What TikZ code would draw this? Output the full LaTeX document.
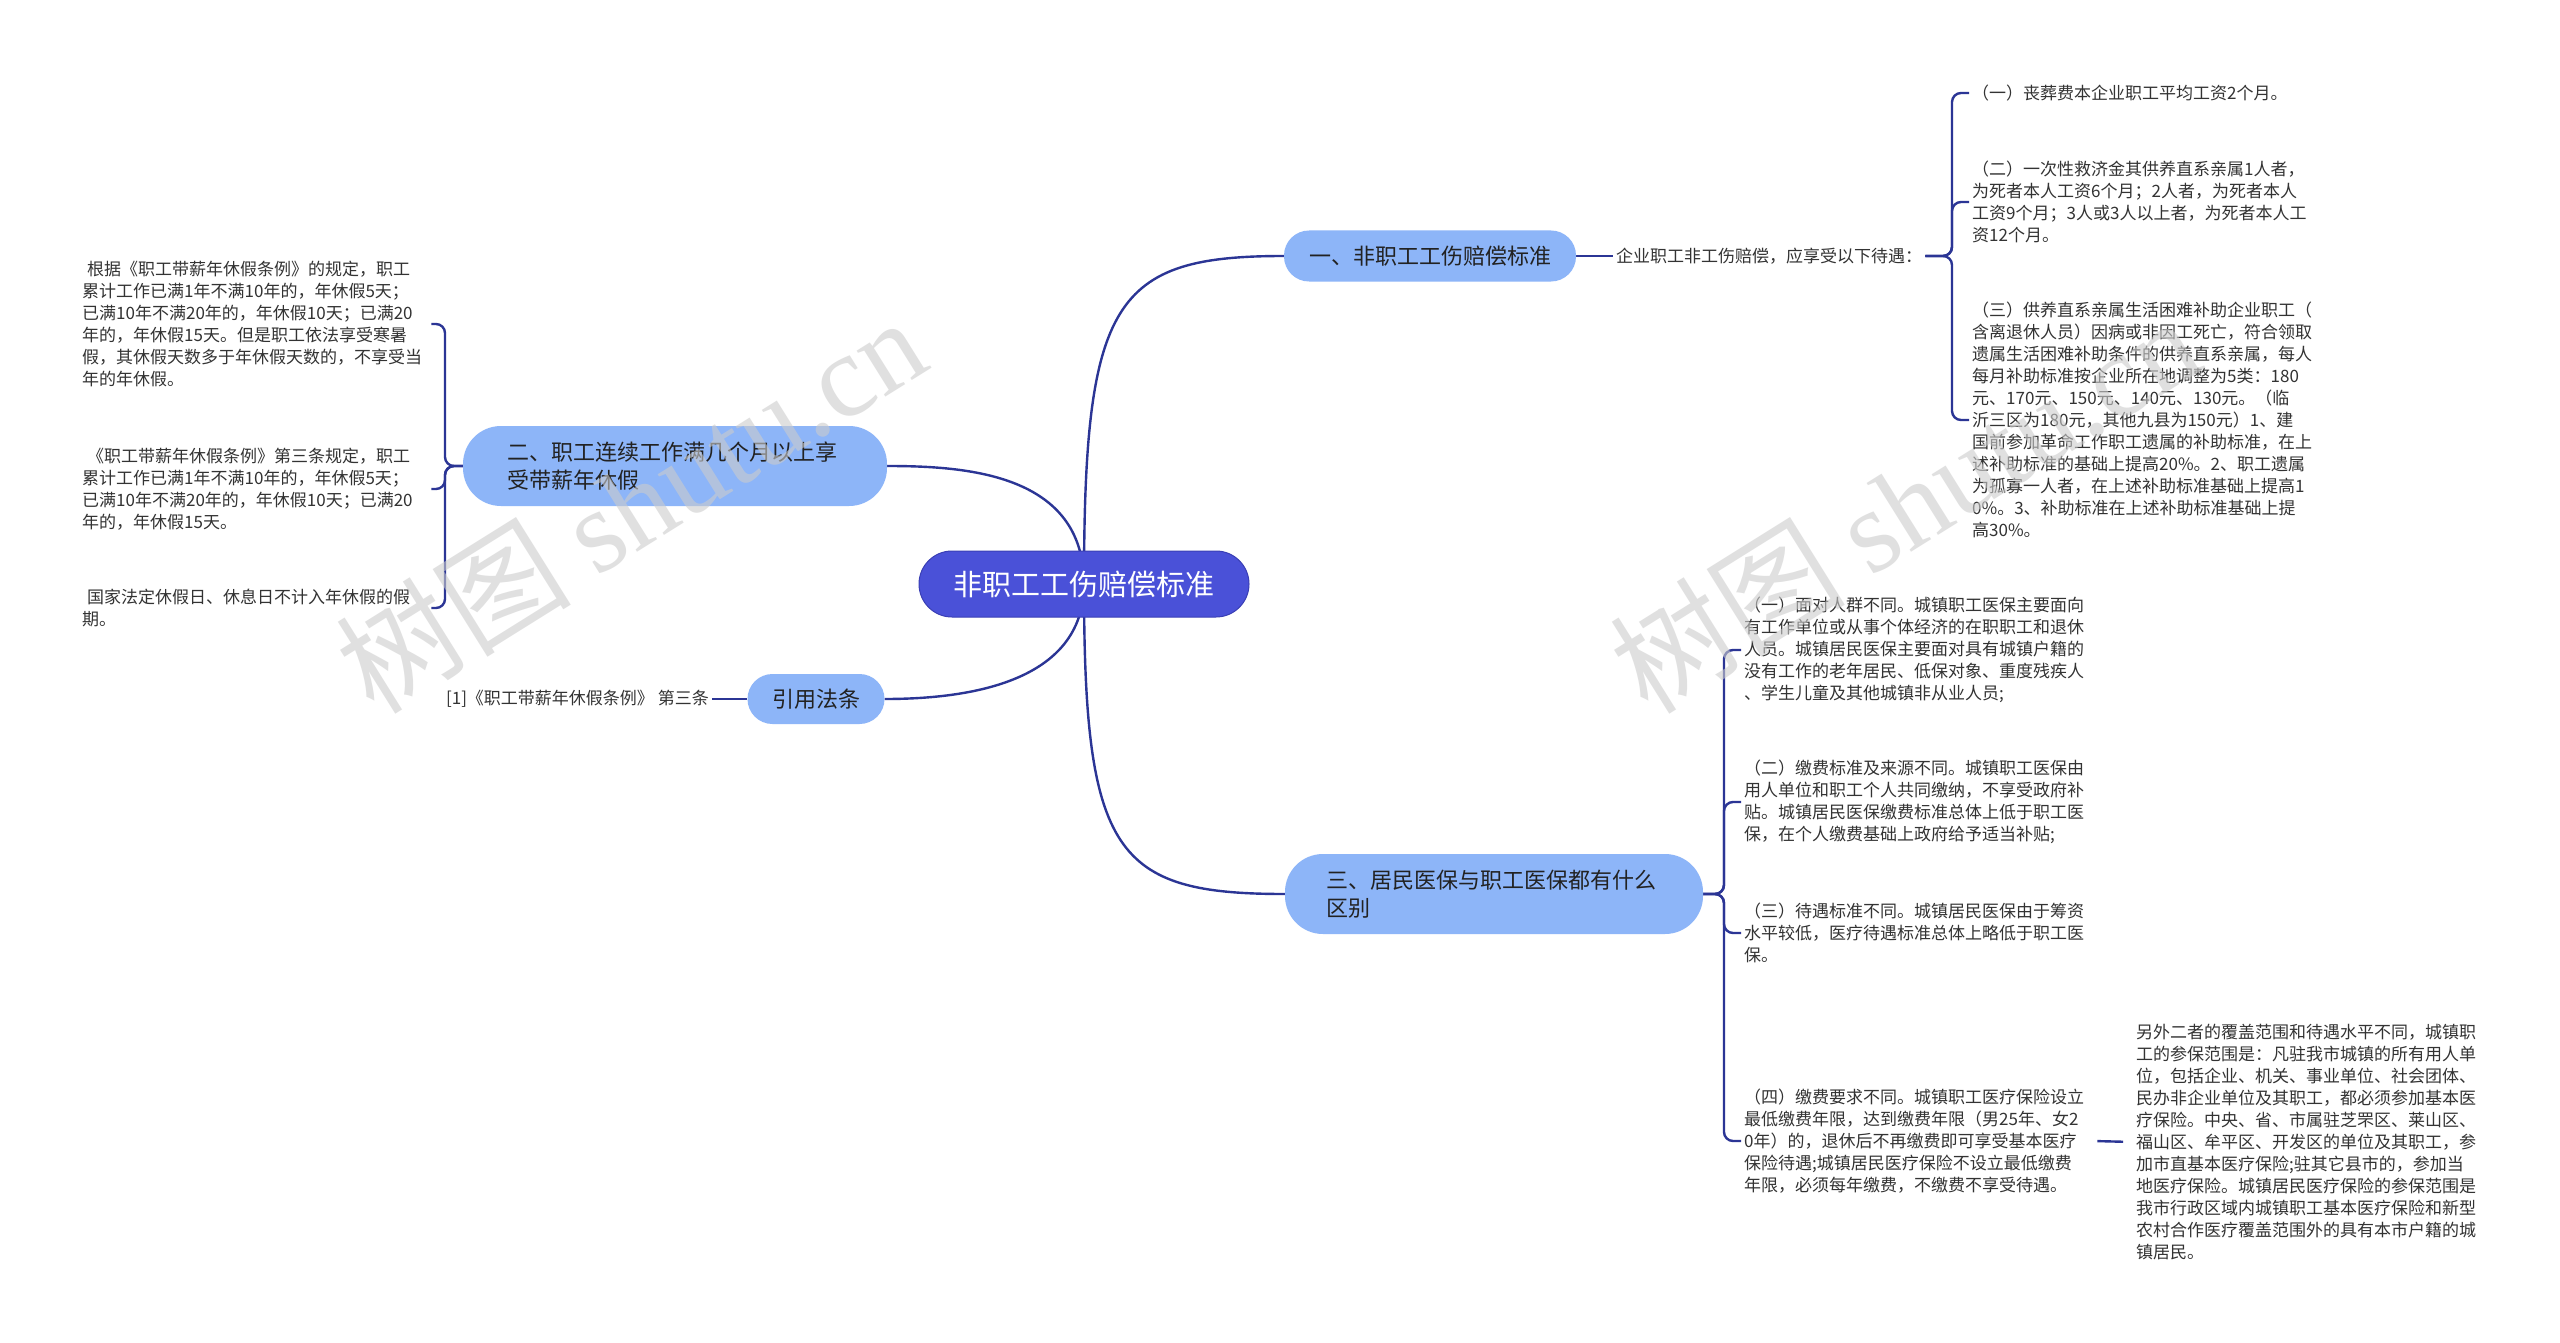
\documentclass[tikz,border=0pt]{standalone}
\usepackage{fontspec}
\setmainfont{Noto Sans CJK SC}
\newfontfamily\wmlatin{Liberation Serif}
\usetikzlibrary{backgrounds}
\definecolor{rootfill}{HTML}{4A51D8}
\definecolor{rootdraw}{HTML}{3A3FB5}
\definecolor{branchfill}{HTML}{8DB5F8}
\definecolor{linec}{HTML}{2B3595}
\definecolor{leaftext}{HTML}{333333}
\definecolor{branchtext}{HTML}{222222}
\begin{document}
\begin{tikzpicture}[x=1pt,y=-1pt,
  conn/.style={draw=linec, line width=2.4pt},
  bconn/.style={draw=linec, line width=2.4pt, rounded corners=9pt},
  rootbox/.style={fill=rootfill, draw=rootdraw, line width=1pt, rounded corners=33pt, minimum width=330pt, minimum height=66pt, text=white, font=\fontsize{29}{34}\selectfont, inner sep=0pt},
  branchbox/.style={fill=branchfill, text=branchtext, font=\fontsize{22}{28}\selectfont, inner sep=0pt},
  leaf/.style={text=leaftext, font=\fontsize{17}{22}\selectfont, align=left, inner sep=3pt, anchor=west},
  wm/.style={text=gray!40, opacity=0.6, font=\fontsize{118}{118}\selectfont, rotate=32, inner sep=0pt}
]
\useasboundingbox (0,0) rectangle (2560,1343);

% ---- main nodes
\node[rootbox] (root) at (1084,584) {非职工工伤赔偿标准};
\node[branchbox, minimum width=292pt, minimum height=51pt, rounded corners=25pt] (n1) at (1430,256) {一、非职工工伤赔偿标准};
\node[branchbox, minimum width=424pt, minimum height=80pt, rounded corners=38pt, text width=336pt, align=left] (n2) at (675,466) {二、职工连续工作满几个月以上享\\受带薪年休假};
\node[branchbox, minimum width=137pt, minimum height=50pt, rounded corners=25pt] (ref) at (816,699) {引用法条};
\node[branchbox, minimum width=418pt, minimum height=80pt, rounded corners=38pt, text width=336pt, align=left] (n3) at (1494,894) {三、居民医保与职工医保都有什么\\区别};

% ---- branch 1 leaves
\node[leaf] (t1) at (1613,256) {企业职工非工伤赔偿，应享受以下待遇：};
\coordinate (b1) at (1952,256);
\node[leaf, text width=350pt] (i1) at (1969,93) {（一）丧葬费本企业职工平均工资2个月。};
\node[leaf, text width=350pt] (i2) at (1969,202) {（二）一次性救济金其供养直系亲属1人者，\\为死者本人工资6个月；2人者，为死者本人\\工资9个月；3人或3人以上者，为死者本人工\\资12个月。};
\node[leaf, text width=350pt] (i3) at (1969,420) {（三）供养直系亲属生活困难补助企业职工（\\含离退休人员）因病或非因工死亡，符合领取\\遗属生活困难补助条件的供养直系亲属，每人\\每月补助标准按企业所在地调整为5类：180\\元、170元、150元、140元、130元。（临\\沂三区为180元，其他九县为150元）1、建\\国前参加革命工作职工遗属的补助标准，在上\\述补助标准的基础上提高20\%。2、职工遗属\\为孤寡一人者，在上述补助标准基础上提高1\\0\%。3、补助标准在上述补助标准基础上提\\高30\%。};

% ---- branch 2 leaves
\coordinate (b2) at (445,466);
\node[leaf, text width=346pt] (l1) at (79,324) {\hspace*{5pt}根据《职工带薪年休假条例》的规定，职工\\累计工作已满1年不满10年的，年休假5天；\\已满10年不满20年的，年休假10天；已满20\\年的，年休假15天。但是职工依法享受寒暑\\假，其休假天数多于年休假天数的，不享受当\\年的年休假。};
\node[leaf, text width=346pt] (l2) at (79,489) {\hspace*{5pt}《职工带薪年休假条例》第三条规定，职工\\累计工作已满1年不满10年的，年休假5天；\\已满10年不满20年的，年休假10天；已满20\\年的，年休假15天。};
\node[leaf, text width=346pt] (l3) at (79,608) {\hspace*{5pt}国家法定休假日、休息日不计入年休假的假\\期。};

% ---- reference leaf
\node[leaf, anchor=east] (r1) at (712,699) {[1]《职工带薪年休假条例》 第三条};

% ---- branch 3 leaves
\coordinate (b3) at (1724,894);
\node[leaf, text width=346pt] (j1) at (1741,650) {（一）面对人群不同。城镇职工医保主要面向\\有工作单位或从事个体经济的在职职工和退休\\人员。城镇居民医保主要面对具有城镇户籍的\\没有工作的老年居民、低保对象、重度残疾人\\、学生儿童及其他城镇非从业人员;};
\node[leaf, text width=346pt] (j2) at (1741,802) {（二）缴费标准及来源不同。城镇职工医保由\\用人单位和职工个人共同缴纳，不享受政府补\\贴。城镇居民医保缴费标准总体上低于职工医\\保，在个人缴费基础上政府给予适当补贴;};
\node[leaf, text width=346pt] (j3) at (1741,933) {（三）待遇标准不同。城镇居民医保由于筹资\\水平较低，医疗待遇标准总体上略低于职工医\\保。};
\node[leaf, text width=346pt] (j4) at (1741,1141) {（四）缴费要求不同。城镇职工医疗保险设立\\最低缴费年限，达到缴费年限（男25年、女2\\0年）的，退休后不再缴费即可享受基本医疗\\保险待遇;城镇居民医疗保险不设立最低缴费\\年限，必须每年缴费，不缴费不享受待遇。};
\node[leaf, text width=350pt] (k1) at (2133,1142) {另外二者的覆盖范围和待遇水平不同，城镇职\\工的参保范围是：凡驻我市城镇的所有用人单\\位，包括企业、机关、事业单位、社会团体、\\民办非企业单位及其职工，都必须参加基本医\\疗保险。中央、省、市属驻芝罘区、莱山区、\\福山区、牟平区、开发区的单位及其职工，参\\加市直基本医疗保险;驻其它县市的，参加当\\地医疗保险。城镇居民医疗保险的参保范围是\\我市行政区域内城镇职工基本医疗保险和新型\\农村合作医疗覆盖范围外的具有本市户籍的城\\镇居民。};

% ---- connectors (behind)
\begin{pgfonlayer}{background}
\fill[white] (0,0) rectangle (2560,1343);
\draw[conn] (root.center) .. controls +(0,-284) and +(-170,0) .. (n1.west);
\draw[conn] (root.center) .. controls +(0,-110) and +(80,0) .. (n2.east);
\draw[conn] (root.center) .. controls +(0,100) and +(80,0) .. (ref.east);
\draw[conn] (root.center) .. controls +(0,270) and +(-170,0) .. (n3.west);
\draw[conn] (n1.east) -- (t1.west);
\draw[bconn] (t1.east) -- (b1) |- (i1.west);
\draw[bconn] (t1.east) -- (b1) |- (i2.west);
\draw[bconn] (t1.east) -- (b1) |- (i3.west);
\draw[bconn] (n2.west) -- (b2) |- (l1.east);
\draw[bconn] (n2.west) -- (b2) |- (l2.east);
\draw[bconn] (n2.west) -- (b2) |- (l3.east);
\draw[conn] (ref.west) -- (r1.east);
\draw[bconn] (n3.east) -- (b3) |- (j1.west);
\draw[bconn] (n3.east) -- (b3) |- (j2.west);
\draw[bconn] (n3.east) -- (b3) |- (j3.west);
\draw[bconn] (n3.east) -- (b3) |- (j4.west);
\draw[conn, shorten >=10pt, shorten <=4pt] (j4.east) -- (k1.west);
\end{pgfonlayer}

% ---- watermarks
\node[wm] (wma) at (630,504) {树图 {\wmlatin shutu.cn}};
\node[wm] (wmb) at (1904,504) {树图 {\wmlatin shutu.cn}};
\end{tikzpicture}
\end{document}
